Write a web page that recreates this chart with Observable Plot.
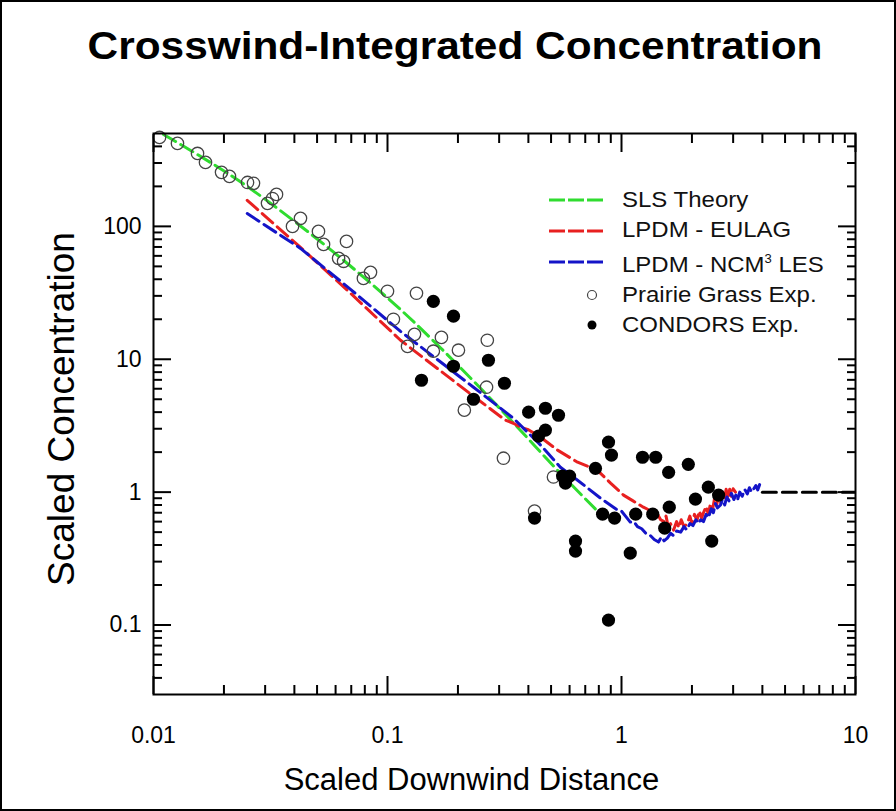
<!DOCTYPE html>
<html>
<head>
<meta charset="utf-8">
<script src="https://cdn.jsdelivr.net/npm/d3@7"></script>
<script src="https://cdn.jsdelivr.net/npm/@observablehq/plot@0.6"></script>
<style>
  body { margin: 0; background: #fff; }
  #wrap { position: relative; width: 896px; height: 811px; overflow: hidden; font-family: "Liberation Sans", Arial, sans-serif; background: #fff; }
  #wrap svg { position: absolute; left: 0; top: 0; }
  #border { position: absolute; left: 0; top: 0; width: 896px; height: 811px; box-sizing: border-box; border: 2px solid #000; pointer-events: none; }
  #title { position: absolute; left: 0; top: 22px; width: 910px; text-align: center; font-weight: bold; font-size: 39px; line-height: 48px; color: #000; transform: scaleX(1.087); transform-origin: 455px 0; }
  .leg { position: absolute; left: 0; top: 0; width: 896px; height: 811px; pointer-events: none; }
  .row { position: absolute; left: 622px; font-size: 22px; line-height: 24px; color: #111; white-space: nowrap; transform: scaleX(1.09); transform-origin: 0 0; }
  .row sup { font-size: 12px; vertical-align: 9px; line-height: 0; }
</style>
</head>
<body>
<div id="wrap">
  <div id="title">Crosswind-Integrated Concentration</div>
</div>
<script>
// ---------- data ----------
const xTicksMajor = [0.01, 0.1, 1, 10];
const xTickLabels = ["0.01", "0.1", "1", "10"];
const xTicksMinor = [0.02,0.03,0.04,0.05,0.06,0.07,0.08,0.09,0.2,0.3,0.4,0.5,0.6,0.7,0.8,0.9,2,3,4,5,6,7,8,9];
const yTicksMajor = [0.1, 1, 10, 100];
const yTickLabels = ["0.1", "1", "10", "100"];
const yTicksMinor = [0.04,0.05,0.06,0.07,0.08,0.09,0.2,0.3,0.4,0.5,0.6,0.7,0.8,0.9,2,3,4,5,6,7,8,9,20,30,40,50,60,70,80,90,200,300,400];

const seriesNames = ["SLS Theory", "LPDM - EULAG", "LPDM - NCM3 LES", "Prairie Grass Exp.", "CONDORS Exp."];

// SLS Theory (green dashed)
const slsX = [0.01104, 0.02597, 0.03967, 0.0767, 0.117, 0.1684, 0.257, 0.3594, 0.533, 0.7976];
const slsY = [492, 192, 110.5, 43.4, 22.6, 12.2, 5.74, 3.08, 1.46, 0.707];

// LPDM - EULAG (red dashed, noisy at large distance)
const eulagX = [0.02515,0.04248,0.0695,0.1137,0.2331,0.319,0.345,0.370,0.400,0.451,0.533,0.649,0.789,0.898,1.02,1.12,1.24,1.30,1.35,1.40,1.47,1.52,1.55,1.58,1.62,1.67,1.72,1.76,1.80,1.85,1.91,1.96,2.00,2.05,2.10,2.15,2.20,2.24,2.30,2.35,2.40,2.45,2.50,2.55,2.60,2.65,2.70,2.75,2.80,2.85,2.90,2.95,3.00,3.07];
const eulagY = [157,69.5,31.4,13.9,5.27,3.48,3.30,3.08,2.95,2.59,2.07,1.68,1.46,1.17,0.95,0.86,0.77,0.74,0.68,0.72,0.62,0.60,0.66,0.56,0.58,0.518,0.60,0.54,0.62,0.55,0.58,0.66,0.58,0.68,0.61,0.72,0.64,0.70,0.78,0.68,0.82,0.74,0.90,0.80,0.95,0.83,1.00,0.88,1.05,0.90,1.05,0.93,1.06,1.00];

// LPDM - NCM3 LES (blue dashed, noisy at large distance)
const ncmX = [0.02515,0.04248,0.0695,0.1137,0.2331,0.345,0.451,0.548,0.649,0.813,0.962,1.00,1.04,1.09,1.13,1.17,1.22,1.29,1.33,1.38,1.44,1.48,1.52,1.57,1.62,1.67,1.72,1.79,1.85,1.90,1.96,2.02,2.08,2.13,2.18,2.24,2.30,2.35,2.42,2.47,2.52,2.57,2.65,2.70,2.76,2.82,2.88,2.95,3.02,3.08,3.13,3.20,3.28,3.36,3.45,3.52,3.60,3.66,3.75,3.82,3.90,4.01];
const ncmY = [125,68.3,33.6,16.2,6.16,3.60,2.26,1.54,1.23,0.901,0.732,0.72,0.66,0.595,0.60,0.55,0.53,0.475,0.47,0.44,0.421,0.46,0.43,0.451,0.49,0.47,0.51,0.50,0.55,0.52,0.58,0.56,0.62,0.58,0.62,0.60,0.68,0.64,0.75,0.70,0.82,0.76,0.80,0.88,0.80,0.92,0.86,0.98,0.88,0.95,0.871,1.00,0.93,1.05,0.97,1.08,1.00,1.05,1.12,1.04,1.15,1.15];

// Far-field asymptote (black dashed)
const farX = [4.0, 10];
const farY = [1, 1];

// Prairie Grass Exp. (open circles)
const prairieX = [0.01061,0.01266,0.01542,0.01668,0.01953,0.02112,0.02522,0.02675,0.0307,0.03225,0.03355,0.03927,0.04248,0.0507,0.0533,0.0668,0.0618,0.0649,0.0846,0.0789,0.100,0.133,0.106,0.1304,0.170,0.1218,0.157,0.201,0.267,0.265,0.213,0.313,0.512,0.425];
const prairieY = [467,421,354,303,255,238,214,211,149,162,174,100,115,91.7,73.2,77.1,57.5,54.6,45.1,40.6,32.5,31.4,20.0,15.4,14.6,12.5,11.5,11.7,13.9,6.16,4.14,1.80,1.30,0.72];

// CONDORS Exp. (filled circles)
const condorsX = [0.157,0.1914,0.1397,0.1914,0.270,0.316,0.233,0.401,0.473,0.538,0.473,0.442,0.880,0.906,1.23,1.40,1.93,0.774,1.59,0.560,0.600,0.576,2.35,2.60,2.07,1.60,0.830,0.934,1.15,1.36,1.53,0.425,0.636,0.636,1.09,2.43,0.880];
const condorsY = [27.3,21.1,6.95,8.86,9.83,6.60,5.0,4.0,4.28,3.79,2.93,2.64,2.38,1.90,1.83,1.83,1.62,1.51,1.41,1.32,1.32,1.17,1.09,0.95,0.886,0.771,0.683,0.638,0.683,0.683,0.536,0.638,0.428,0.360,0.348,0.428,0.109];

// ---------- styles ----------
const GREEN = "#2fdc2f", RED = "#e82020", BLUE = "#1414c8";
const toRows = (xs, ys) => xs.map((x, i) => ({x, y: ys[i]}));
const dash = "14,6";

const chart = Plot.plot({
  width: 896, height: 811,
  marginLeft: 153, marginRight: 41, marginTop: 133, marginBottom: 117,
  x: {type: "log", domain: [0.01, 10]},
  y: {type: "log", domain: [0.03, 500]},
  style: {fontFamily: "'Liberation Sans', Arial, sans-serif", background: "transparent", color: "#000"},
  marks: [
    Plot.line(toRows(slsX, slsY), {x: "x", y: "y", stroke: GREEN, strokeWidth: 3, strokeDasharray: dash, curve: "monotone-x", clip: true}),
    Plot.line(toRows(eulagX, eulagY), {x: "x", y: "y", stroke: RED, strokeWidth: 3, strokeDasharray: dash, clip: true}),
    Plot.line(toRows(ncmX, ncmY), {x: "x", y: "y", stroke: BLUE, strokeWidth: 3, strokeDasharray: dash, clip: true}),
    Plot.line(toRows(farX, farY), {x: "x", y: "y", stroke: "#000", strokeWidth: 3, strokeDasharray: dash, clip: true}),
    Plot.dot(toRows(prairieX, prairieY), {x: "x", y: "y", r: 6.2, stroke: "#444", strokeWidth: 1.3, fill: "none"}),
    Plot.dot(toRows(condorsX, condorsY), {x: "x", y: "y", r: 6.6, fill: "#000", stroke: "none"}),
    // inward ticks on all four sides
    Plot.axisX(xTicksMajor, {anchor: "bottom", tickSize: -18, fill: "none", strokeWidth: 2, label: null}),
    Plot.axisX(xTicksMinor, {anchor: "bottom", tickSize: -9, fill: "none", strokeWidth: 2, label: null}),
    Plot.axisX(xTicksMajor, {anchor: "top", tickSize: -18, fill: "none", strokeWidth: 2, label: null}),
    Plot.axisX(xTicksMinor, {anchor: "top", tickSize: -9, fill: "none", strokeWidth: 2, label: null}),
    Plot.axisY(yTicksMajor, {anchor: "left", tickSize: -18, fill: "none", strokeWidth: 2, label: null}),
    Plot.axisY(yTicksMinor, {anchor: "left", tickSize: -9, fill: "none", strokeWidth: 2, label: null}),
    Plot.axisY(yTicksMajor, {anchor: "right", tickSize: -18, fill: "none", strokeWidth: 2, label: null}),
    Plot.axisY(yTicksMinor, {anchor: "right", tickSize: -9, fill: "none", strokeWidth: 2, label: null}),
    // tick labels
    Plot.axisX(xTicksMajor, {anchor: "bottom", tickSize: 0, tickPadding: 32, fontSize: 23, label: null,
      tickFormat: d => xTickLabels[xTicksMajor.indexOf(d)]}),
    Plot.axisY(yTicksMajor, {anchor: "left", tickSize: 0, tickPadding: 12, fontSize: 23, label: null,
      tickFormat: d => yTickLabels[yTicksMajor.indexOf(d)]}),
    // axis titles
    Plot.text(["Scaled Downwind Distance"], {text: d => d, frameAnchor: "bottom", dy: 86, dx: -33, fontSize: 31, lineAnchor: "middle", textAnchor: "middle"}),
    Plot.text(["Scaled Concentration"], {text: d => d, frameAnchor: "left", rotate: -90, dx: -91, dy: -5, fontSize: 37, lineAnchor: "middle", textAnchor: "middle"}),
    Plot.frame({stroke: "#000", strokeWidth: 2})
  ]
});
const wrap = document.getElementById("wrap");
wrap.appendChild(chart);

// ---------- legend ----------
const leg = document.createElementNS("http://www.w3.org/2000/svg", "svg");
leg.setAttribute("class", "leg");
leg.setAttribute("width", 896); leg.setAttribute("height", 811);
const swatches = [
  {kind: "line", color: GREEN, y: 200},
  {kind: "line", color: RED, y: 231},
  {kind: "line", color: BLUE, y: 262},
  {kind: "open", color: "#444", y: 295},
  {kind: "filled", color: "#000", y: 325}
];
for (const s of swatches) {
  if (s.kind === "line") {
    const l = document.createElementNS(leg.namespaceURI, "line");
    l.setAttribute("x1", 549); l.setAttribute("x2", 604);
    l.setAttribute("y1", s.y); l.setAttribute("y2", s.y);
    l.setAttribute("stroke", s.color); l.setAttribute("stroke-width", 3);
    l.setAttribute("stroke-dasharray", "16,3");
    leg.appendChild(l);
  } else {
    const c = document.createElementNS(leg.namespaceURI, "circle");
    c.setAttribute("cx", 592); c.setAttribute("cy", s.y); c.setAttribute("r", 4.5);
    if (s.kind === "open") { c.setAttribute("fill", "none"); c.setAttribute("stroke", s.color); c.setAttribute("stroke-width", 1.2); }
    else { c.setAttribute("fill", s.color); }
    leg.appendChild(c);
  }
}
wrap.appendChild(leg);
const textTops = [188, 218, 253, 283, 313];
seriesNames.forEach((name, i) => {
  const d = document.createElement("div");
  d.className = "row";
  d.style.top = textTops[i] + "px";
  if (name.includes("NCM3")) d.innerHTML = "LPDM - NCM<sup>3</sup> LES";
  else d.textContent = name;
  wrap.appendChild(d);
});
const b = document.createElement("div"); b.id = "border"; wrap.appendChild(b);
</script>
</body>
</html>
